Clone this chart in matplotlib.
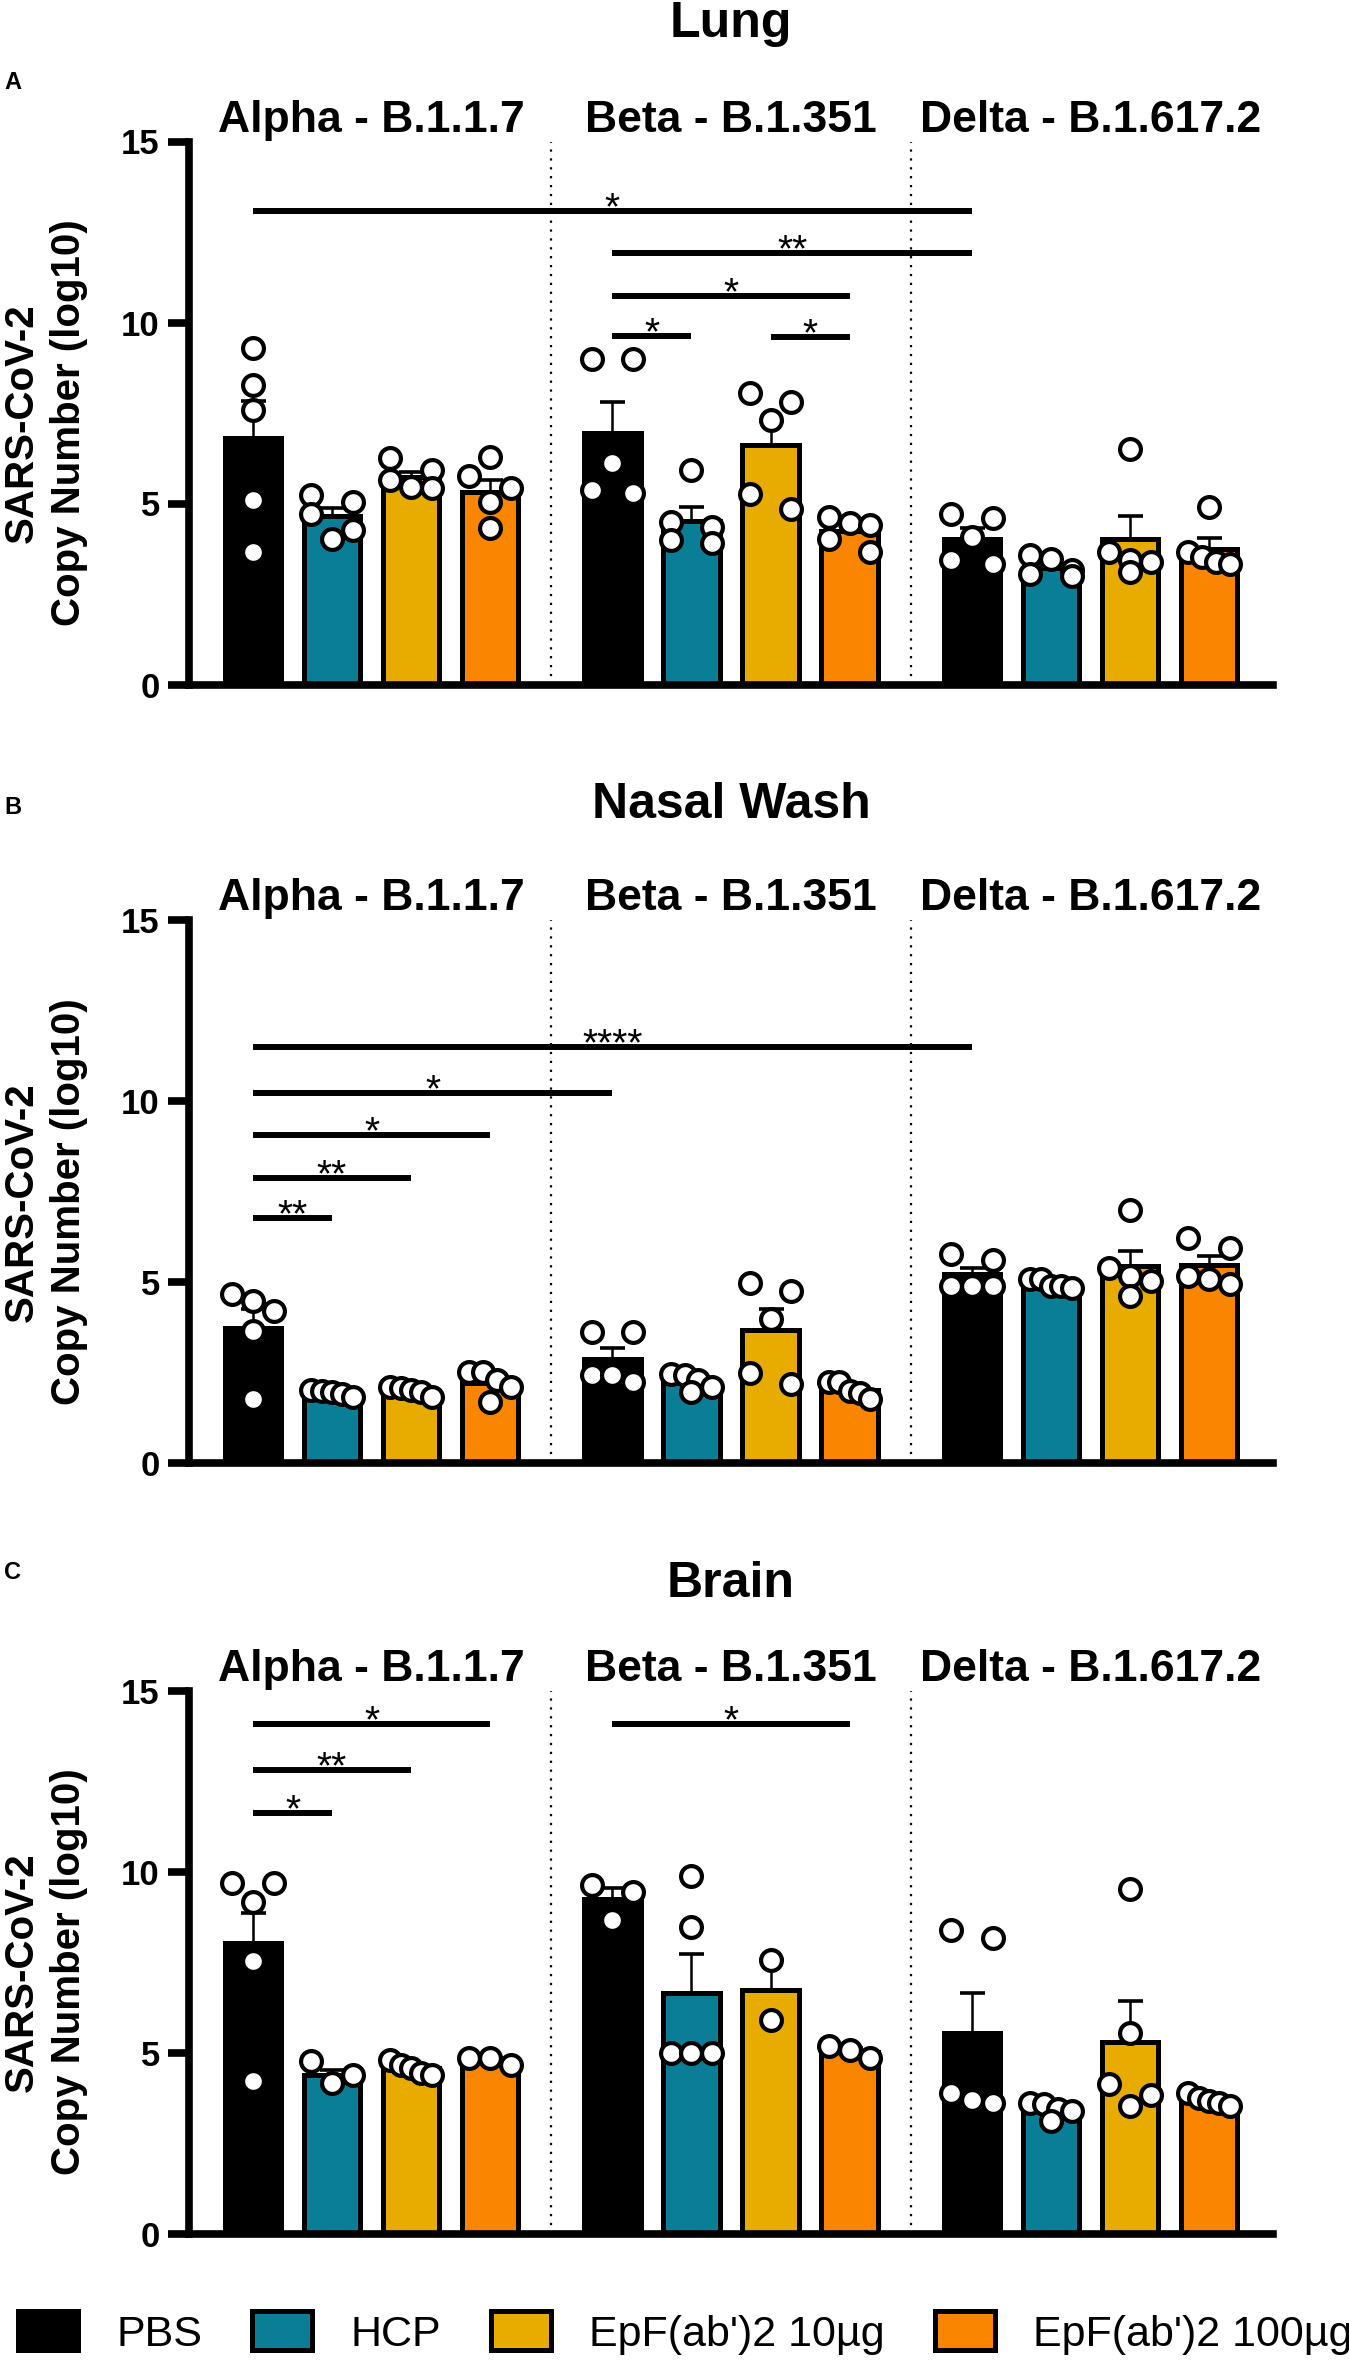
import matplotlib
matplotlib.use("Agg")
import matplotlib.pyplot as plt
from matplotlib.patches import Patch
import numpy as np

plt.rcParams['font.family'] = ['Liberation Sans', 'DejaVu Sans']

# ---------------- data ----------------
groups = ["PBS", "HCP", "EpF(ab')2 10µg", "EpF(ab')2 100µg"]
variants = ["Alpha - B.1.1.7", "Beta - B.1.351", "Delta - B.1.617.2"]
colors = ["#000000", "#0B7E97", "#E8AB00", "#FA8500"]
panel_titles = ["Lung", "Nasal Wash", "Brain"]
panel_letters = ["A", "B", "C"]
yticks = [0, 5, 10, 15]

lung_means = [[6.80, 4.65, 5.72, 5.33], [6.95, 4.53, 6.62, 4.25], [4.02, 3.22, 4.02, 3.75]]
lung_sems = [[1.03, 0.22, 0.15, 0.33], [0.85, 0.36, 0.67, 0.17], [0.29, 0.12, 0.64, 0.29]]
lung_points = [
    [[9.30, 8.28, 7.58, 5.09, 3.66], [5.23, 5.04, 4.72, 4.26, 4.03],
     [6.25, 5.92, 5.65, 5.46, 5.42], [6.28, 5.75, 5.42, 5.05, 4.31]],
    [[8.99, 8.99, 6.11, 5.37, 5.28], [5.92, 4.49, 4.36, 3.99, 3.90],
     [8.06, 7.81, 7.31, 5.26, 4.86], [4.63, 4.45, 4.40, 4.03, 3.66]],
    [[4.72, 4.59, 4.08, 3.43, 3.34], [3.57, 3.48, 3.17, 3.05, 2.99],
     [6.51, 3.67, 3.45, 3.39, 3.10], [4.91, 3.66, 3.53, 3.39, 3.34]],
]
nasal_means = [[3.74, 1.95, 1.98, 2.20], [2.86, 2.22, 3.68, 2.02], [5.21, 4.95, 5.44, 5.46]]
nasal_sems = [[0.52, 0.04, 0.05, 0.15], [0.32, 0.10, 0.57, 0.08], [0.18, 0.05, 0.42, 0.25]]
nasal_points = [
    [[4.66, 4.48, 4.20, 3.66, 1.78], [2.02, 2.00, 1.97, 1.90, 1.83],
     [2.10, 2.06, 2.03, 1.95, 1.83], [2.51, 2.51, 2.28, 2.10, 1.69]],
    [[3.61, 3.61, 2.42, 2.42, 2.24], [2.47, 2.42, 2.30, 2.10, 1.97],
     [4.98, 4.75, 3.98, 2.50, 2.19], [2.24, 2.24, 2.00, 1.92, 1.78]],
    [[5.76, 5.62, 4.89, 4.89, 4.89], [5.07, 5.07, 4.89, 4.89, 4.84],
     [6.99, 5.39, 5.16, 5.03, 4.62], [6.21, 5.94, 5.16, 5.07, 4.94]],
]
brain_means = [[8.05, 4.40, 4.58, 4.80], [9.26, 6.67, 6.75, 5.04], [5.56, 3.43, 5.30, 3.68]]
brain_sems = [[0.83, 0.12, 0.08, 0.06], [0.29, 1.07, 0.82, 0.09], [1.11, 0.09, 1.13, 0.07]]
brain_points = [
    [[9.69, 9.69, 9.18, 7.53, 4.22], [4.77, 4.40, 4.17],
     [4.82, 4.68, 4.59, 4.45, 4.40], [4.86, 4.86, 4.68]],
    [[9.64, 9.46, 8.68], [9.89, 8.47, 5.00, 5.00, 5.00],
     [7.57, 5.92], [5.18, 5.09, 4.86]],
    [[8.40, 8.17, 3.90, 3.71, 3.62], [3.62, 3.58, 3.44, 3.39, 3.12],
     [9.52, 5.55, 4.13, 3.85, 3.53], [3.90, 3.76, 3.67, 3.62, 3.53]],
]
# significance comparisons: ((variant, group), (variant, group), level, label)
lung_sig = [((0, 0), (2, 0), 13.09, "*"), ((1, 0), (2, 0), 11.92, "**"),
            ((1, 0), (1, 3), 10.74, "*"), ((1, 0), (1, 1), 9.63, "*"),
            ((1, 2), (1, 3), 9.59, "*")]
nasal_sig = [((0, 0), (2, 0), 11.50, "****"), ((0, 0), (1, 0), 10.23, "*"),
             ((0, 0), (0, 3), 9.06, "*"), ((0, 0), (0, 2), 7.86, "**"),
             ((0, 0), (0, 1), 6.76, "**")]
brain_sig = [((0, 0), (0, 3), 14.10, "*"), ((0, 0), (0, 2), 12.81, "**"),
             ((0, 0), (0, 1), 11.64, "*"), ((1, 0), (1, 3), 14.10, "*")]

panels = [
    (lung_means, lung_sems, lung_points, lung_sig),
    (nasal_means, nasal_sems, nasal_points, nasal_sig),
    (brain_means, brain_sems, brain_points, brain_sig),
]

# ---------------- layout ----------------
W, H = 1349, 2360
DPI = 100
GROUP_STEP = 4.55
BAR_W = 0.72

def xpos(v, g):
    return v * GROUP_STEP + g

def swarm_offsets(vals, row_tol=0.5, width=0.52):
    order = sorted(range(len(vals)), key=lambda k: -vals[k])
    rows = []
    for k in order:
        if rows and vals[rows[-1][0]] - vals[k] < row_tol:
            rows[-1].append(k)
        else:
            rows.append([k])
    offs = [0.0] * len(vals)
    for r in rows:
        n = len(r)
        if n > 1:
            for j, k in enumerate(r):
                offs[k] = -width / 2 + width * j / (n - 1)
    return offs

fig = plt.figure(figsize=(W / DPI, H / DPI), dpi=DPI)

left_px, right_px = 189, 1273
axes_px = [(141.5, 684.5), (920, 1463), (1691, 2234)]   # (top, bottom) in px
title_base = [37, 818, 1597]
letter_base = [89, 814, 1579]
ylab_center = [423, 1202, 1972]

for p, (means, sems, points, sig) in enumerate(panels):
    top, bot = axes_px[p]
    ax = fig.add_axes([left_px / W, (H - bot) / H, (right_px - left_px) / W, (bot - top) / H])
    ax.set_xlim(-0.81, 12.91)
    ax.set_ylim(0, 15)
    for s in ["top", "right"]:
        ax.spines[s].set_visible(False)
    for s in ["left", "bottom"]:
        ax.spines[s].set_linewidth(5.5)
        ax.spines[s].set_capstyle("projecting")
    ax.set_xticks([])
    ax.set_yticks(yticks)
    ax.set_yticklabels([str(t) for t in yticks], fontsize=25, fontweight="bold")
    ax.tick_params(axis="y", length=15, width=5.5, pad=6)

    # dotted separators
    for v in range(2):
        ax.axvline(xpos(v, 3) + (GROUP_STEP - 3) / 2, color="black", lw=1.6,
                   linestyle=(0, (1, 3)), zorder=1)

    for v in range(3):
        xs = [xpos(v, g) for g in range(4)]
        ax.bar(xs, means[v], width=BAR_W, color=colors, edgecolor="black",
               linewidth=3.6, zorder=2)
        ax.errorbar(xs, means[v], yerr=[np.zeros(4), sems[v]], fmt="none",
                    ecolor="black", elinewidth=1.8, capsize=9, capthick=2.6, zorder=3)
        for g in range(4):
            vals = points[v][g]
            offs = swarm_offsets(vals)
            ax.plot([xs[g] + o for o in offs], vals, linestyle="none", marker="o",
                    markersize=15, markerfacecolor="white", markeredgecolor="black",
                    markeredgewidth=3.0, zorder=4, clip_on=False)
        ax.annotate(variants[v], xy=(xpos(v, 1.5), 15), xytext=(0, 7),
                    textcoords="offset points", ha="center", va="baseline",
                    fontsize=32, fontweight="bold", annotation_clip=False)

    for (a, b, lvl, lab) in sig:
        x1, x2 = xpos(*a), xpos(*b)
        ax.plot([x1, x2], [lvl, lvl], color="black", lw=4.3, solid_capstyle="butt", zorder=5)
        ax.annotate(lab, xy=((x1 + x2) / 2, lvl), xytext=(0, -6),
                    textcoords="offset points", ha="center", va="baseline",
                    fontsize=28, annotation_clip=False)

    fig.text((left_px + right_px) / 2 / W, (H - title_base[p]) / H, panel_titles[p],
             ha="center", va="baseline", fontsize=36, fontweight="bold")
    fig.text(4 / W, (H - letter_base[p]) / H, panel_letters[p],
             ha="left", va="baseline", fontsize=17, fontweight="bold")
    fig.text(45 / W, (H - ylab_center[p]) / H, "SARS-CoV-2\nCopy Number (log10)",
             rotation=90, ha="center", va="center", multialignment="center",
             fontsize=29, fontweight="bold", linespacing=1.3)

handles = [Patch(facecolor=c, edgecolor="black", linewidth=3.6) for c in colors]
fig.legend(handles, groups, loc="center left", bbox_to_anchor=(18 / W, 27 / H),
           ncol=4, fontsize=31, frameon=False, handlelength=1.4, handleheight=1.0,
           handletextpad=0.88, columnspacing=1.16, borderpad=0, borderaxespad=0)

fig.savefig("out.png", dpi=DPI)
